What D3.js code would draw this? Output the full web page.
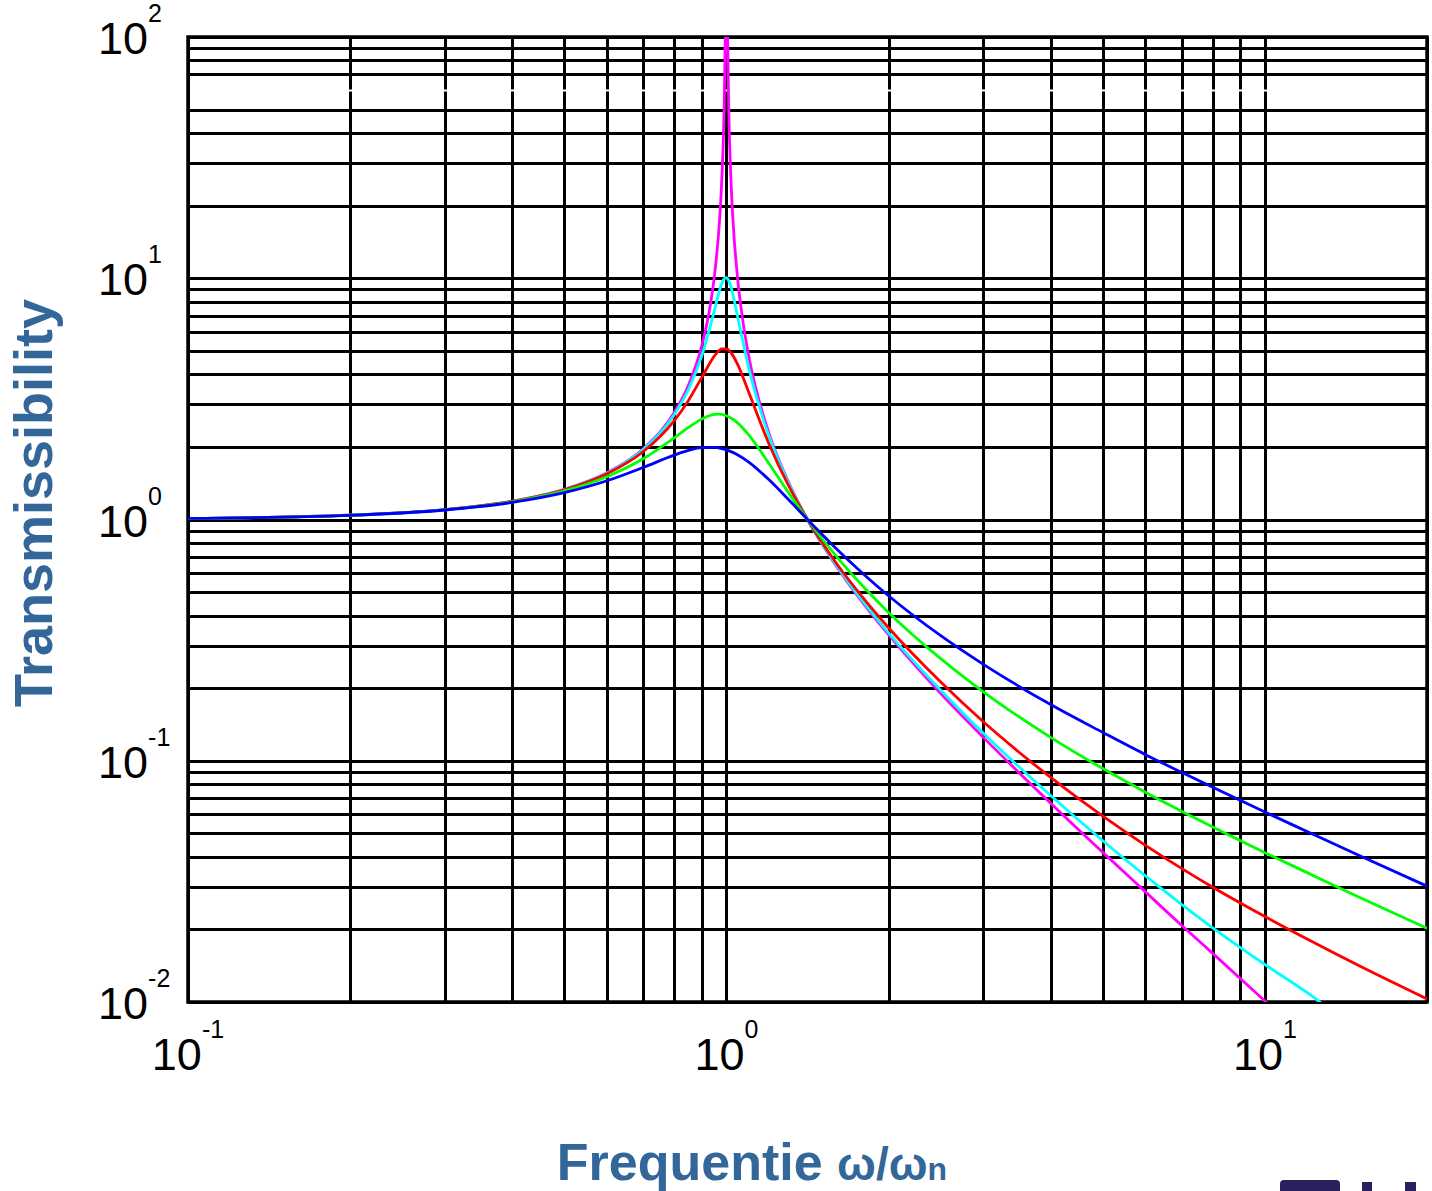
<!DOCTYPE html>
<html lang="en">
<head>
<meta charset="utf-8">
<title>Transmissibility</title>
<script src="https://d3js.org/d3.v7.min.js"></script>
<style>
  body { margin: 0; background: #fff; }
  .grid line { stroke: #000; stroke-width: 3; shape-rendering: crispEdges; }
  .grid path { display: none; }
  .ticklabel { font-family: Arial, "Liberation Sans", sans-serif; font-size: 45px; fill: #000; }
  .title { font-family: Arial, "Liberation Sans", sans-serif; font-weight: bold; fill: #336699; }
</style>
</head>
<body>
<div id="chart"></div>
<script>
// tick labels (base 10, exponent)
var xTickValues = [0.1, 1, 10]
var xTickExp = ["-1", "0", "1"]
var yTickValues = [0.01, 0.1, 1, 10, 100]
var yTickExp = ["-2", "-1", "0", "1", "2"]

// curves: [frequency ratio, transmissibility]
var blueSeries = [[0.1,1.010],[0.2,1.041],[0.3,1.095],[0.4,1.177],[0.5,1.292],[0.6,1.447],[0.7,1.642],[0.8,1.849],[0.85,1.933],[0.9,1.985],[0.95,1.990],[0.97,1.978],[1.0,1.944],[1.03,1.893],[1.05,1.852],[1.1,1.730],[1.2,1.460],[1.3,1.218],[1.414,1.000],[1.6,0.757],[1.8,0.592],[2,0.483],[2.5,0.330],[3,0.251],[4,0.171],[5,0.131],[6,0.106],[7,0.0896],[8,0.0776],[10,0.0613],[12,0.0508],[15,0.0404],[20,0.0302]]
var greenSeries = [[0.1,1.010],[0.2,1.041],[0.3,1.097],[0.4,1.184],[0.5,1.314],[0.6,1.505],[0.7,1.785],[0.8,2.180],[0.85,2.407],[0.9,2.611],[0.95,2.727],[0.97,2.733],[1.0,2.693],[1.03,2.597],[1.05,2.509],[1.1,2.241],[1.2,1.703],[1.3,1.305],[1.414,1.000],[1.6,0.704],[1.8,0.524],[2,0.412],[2.5,0.265],[3,0.193],[4,0.125],[5,0.0928],[6,0.0741],[7,0.0618],[8,0.0531],[10,0.0416],[12,0.0343],[15,0.0271],[20,0.0202]]
var redSeries = [[0.1,1.010],[0.2,1.042],[0.3,1.099],[0.4,1.189],[0.5,1.328],[0.6,1.547],[0.7,1.909],[0.8,2.571],[0.85,3.117],[0.9,3.882],[0.95,4.767],[0.97,5.023],[0.98,5.096],[1.0,5.099],[1.02,4.908],[1.03,4.753],[1.05,4.373],[1.1,3.366],[1.2,2.052],[1.3,1.401],[1.414,1.000],[1.6,0.659],[1.8,0.469],[2,0.356],[2.5,0.212],[3,0.145],[4,0.0853],[5,0.0589],[6,0.0446],[7,0.0358],[8,0.0299],[10,0.0226],[12,0.0182],[15,0.0141],[20,0.0103]]
var cyanSeries = [[0.1,1.010],[0.2,1.042],[0.3,1.099],[0.4,1.190],[0.5,1.332],[0.6,1.558],[0.7,1.947],[0.8,2.720],[0.85,3.459],[0.9,4.776],[0.95,7.38],[0.97,8.85],[0.98,9.51],[0.99,9.95],[1.0,10.05],[1.01,9.76],[1.02,9.16],[1.03,8.40],[1.05,6.853],[1.1,4.244],[1.2,2.208],[1.3,1.436],[1.414,1.000],[1.6,0.646],[1.8,0.452],[2,0.339],[2.5,0.196],[3,0.130],[4,0.0718],[5,0.0466],[6,0.0333],[7,0.0254],[8,0.0203],[10,0.0143],[12,0.0109],[14,0.0084]]
var magentaSeries = [[0.1,1.010],[0.2,1.042],[0.3,1.099],[0.4,1.190],[0.5,1.333],[0.6,1.563],[0.7,1.961],[0.8,2.778],[0.85,3.604],[0.9,5.263],[0.93,7.39],[0.95,10.26],[0.97,16.9],[0.98,25.3],[0.99,50.3],[0.995,100],[0.998,200],[1.002,200],[1.005,99.8],[1.01,49.8],[1.02,24.8],[1.03,16.4],[1.05,9.76],[1.07,6.90],[1.1,4.76],[1.2,2.27],[1.3,1.45],[1.414,1.0],[1.6,0.641],[1.8,0.446],[2,0.333],[2.5,0.190],[3,0.125],[4,0.0667],[5,0.0417],[6,0.0286],[7,0.0208],[8,0.0159],[10,0.0101],[11,0.0083]]

var w = 1432
var h = 1191
var plotLeft = 188, plotRight = 1427, plotTop = 37, plotBottom = 1002

var svg = d3.select("#chart").append("svg")
    .attr("width", w)
    .attr("height", h)

var xScale = d3.scaleLog().domain([0.1, 20]).range([plotLeft, plotRight])
var yScale = d3.scaleLog().domain([0.01, 100]).range([plotBottom, plotTop])

// grid: horizontal first, then vertical
var yGrid = svg.append("g")
    .attr("class", "grid")
    .attr("transform", "translate(" + plotLeft + ",0)")
    .call(d3.axisLeft(yScale).tickValues(yScale.ticks()).tickSize(-(plotRight - plotLeft)).tickFormat(""))

// the 60 line shows up white in the original
yGrid.selectAll(".tick")
    .filter(function(d) { return Math.abs(d - 60) < 1e-6 })
    .remove()

svg.append("g")
    .attr("class", "grid")
    .attr("transform", "translate(0," + plotBottom + ")")
    .call(d3.axisBottom(xScale).tickValues(xScale.ticks()).tickSize(-(plotBottom - plotTop)).tickFormat(""))

svg.append("line")
    .attr("x1", plotLeft + 3).attr("x2", plotRight - 3)
    .attr("y1", yScale(60)).attr("y2", yScale(60))
    .attr("stroke", "#fff").attr("stroke-width", 2)

// frame
svg.append("rect")
    .attr("x", plotLeft).attr("y", plotTop)
    .attr("width", plotRight - plotLeft).attr("height", plotBottom - plotTop)
    .attr("fill", "none").attr("stroke", "#000").attr("stroke-width", 3.5)

svg.append("clipPath").attr("id", "plotclip")
  .append("rect")
    .attr("x", plotLeft).attr("y", plotTop)
    .attr("width", plotRight - plotLeft).attr("height", plotBottom - plotTop)

var line = d3.line()
    .x(function(d) { return xScale(d[0]) })
    .y(function(d) { return yScale(d[1]) })
    .curve(d3.curveMonotoneX)

var curves = [
  { data: magentaSeries, color: "#ff00ff" },
  { data: cyanSeries, color: "#00ffff" },
  { data: redSeries, color: "#ff0000" },
  { data: greenSeries, color: "#00ff00" },
  { data: blueSeries, color: "#0000ff" }
]

svg.append("g")
    .attr("clip-path", "url(#plotclip)")
  .selectAll("path")
    .data(curves)
    .enter()
  .append("path")
    .attr("d", function(d) { return line(d.data) })
    .attr("fill", "none")
    .attr("stroke", function(d) { return d.color })
    .attr("stroke-width", 2.8)

// x tick labels: 10 with superscript, centred on the tick
xTickValues.forEach(function(v, i) {
  var t = svg.append("text")
      .attr("class", "ticklabel")
      .attr("x", xScale(v))
      .attr("y", 1070)
      .attr("text-anchor", "middle")
  t.append("tspan").text("10")
  t.append("tspan").attr("dy", -32).style("font-size", "25px").text(xTickExp[i])
})

// y tick labels, left aligned
yTickValues.forEach(function(v, i) {
  var t = svg.append("text")
      .attr("class", "ticklabel")
      .attr("x", 98)
      .attr("y", yScale(v) + 17)
  t.append("tspan").text("10")
  t.append("tspan").attr("dy", -32).style("font-size", "25px").text(yTickExp[i])
})

// axis titles
svg.append("text")
    .attr("class", "title")
    .attr("transform", "translate(52,503) rotate(-90)")
    .attr("text-anchor", "middle")
    .style("font-size", "54px")
    .text("Transmissibility")

var xt = svg.append("text")
    .attr("class", "title")
    .attr("x", 752)
    .attr("y", 1180)
    .attr("text-anchor", "middle")
    .style("font-size", "52px")
xt.append("tspan").text("Frequentie ")
xt.append("tspan").style("font-size", "46px").text("ω/ω")
xt.append("tspan").style("font-size", "32px").text("n")

// partial logo at the bottom edge
var logo = svg.append("g").attr("fill", "#2b1f5e")
logo.append("rect").attr("x", 1280).attr("y", 1180).attr("width", 60).attr("height", 14).attr("rx", 4)
logo.append("rect").attr("x", 1362).attr("y", 1182).attr("width", 10).attr("height", 12)
logo.append("rect").attr("x", 1405).attr("y", 1182).attr("width", 11).attr("height", 12)
</script>
</body>
</html>
